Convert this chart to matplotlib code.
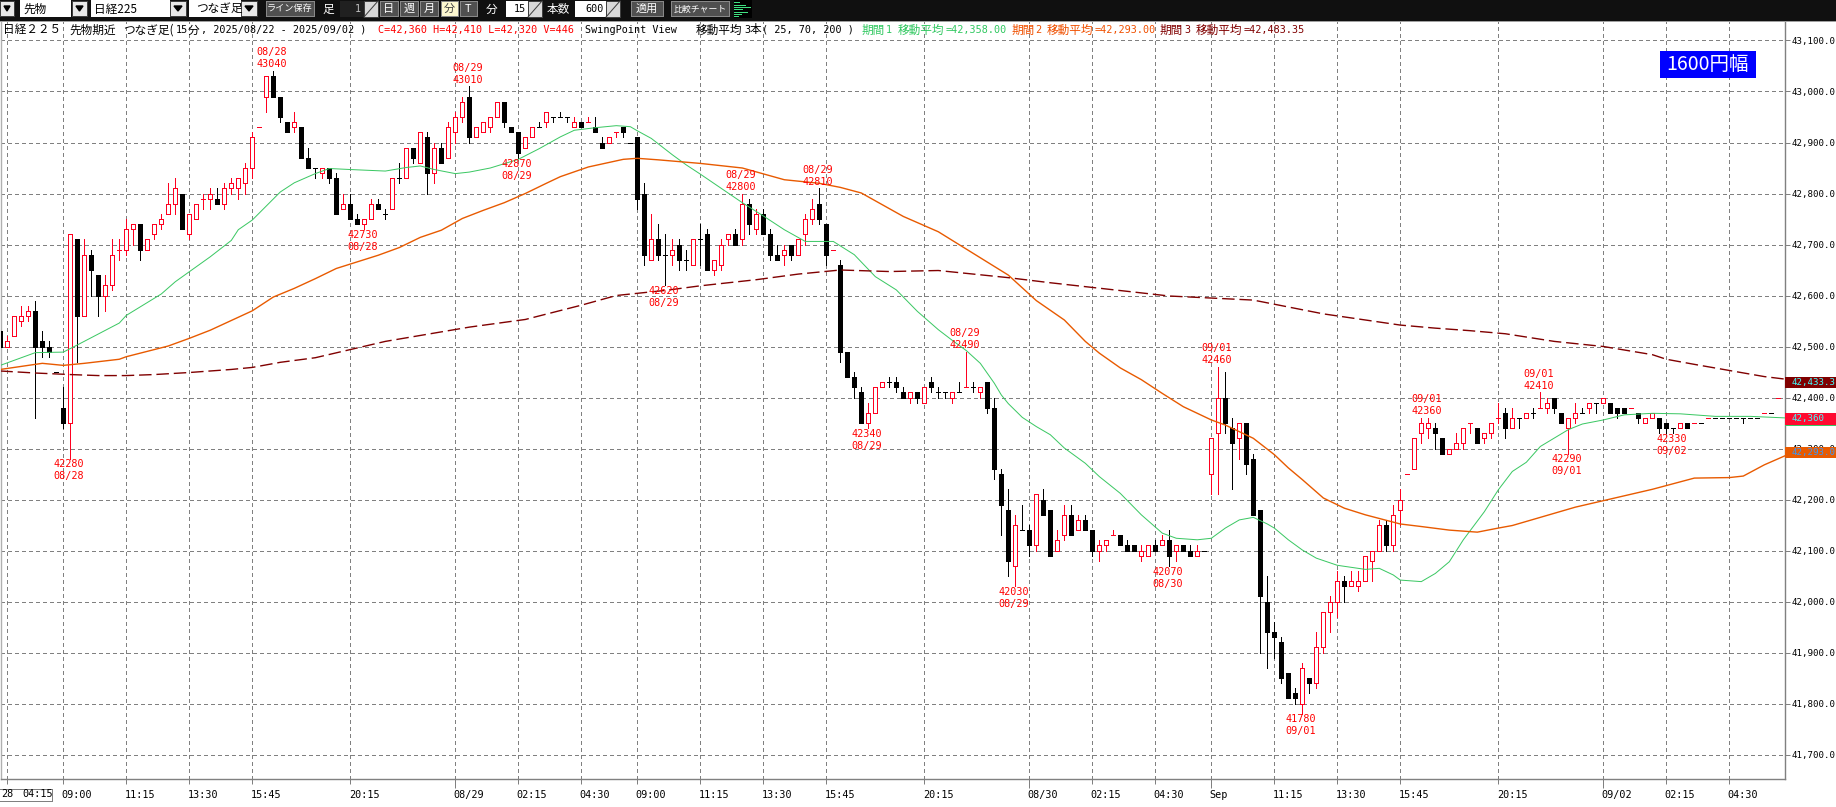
import matplotlib
matplotlib.use('Agg')
import matplotlib.pyplot as plt
from matplotlib.patches import Rectangle
from matplotlib.transforms import ScaledTranslation

plt.rcParams['font.family'] = ['Noto Sans CJK JP', 'DejaVu Sans']

# 15 min candles (yen)
opens = [42530,42500,42520,42550,42560,42570,42510,42500,42450,42380,
    42350,42710,42560,42680,42640,42600,42620,42690,42690,42730,
    42740,42690,42720,42740,42760,42780,42800,42720,42750,42790,
    42790,42790,42780,42810,42810,42820,42850,42930,42990,43030,
    42990,42940,42930,42930,42870,42850,42840,42850,42830,42770,
    42780,42750,42740,42750,42780,42760,42770,42830,42830,42890,
    42860,42910,42840,42890,42870,42920,42950,42990,42910,42920,
    42930,42950,42980,42930,42920,42890,42910,42930,42940,42950,
    42950,42950,42930,42940,42940,42930,42900,42900,42920,42930,
    42900,42910,42800,42670,42710,42680,42680,42700,42670,42660,
    42710,42720,42650,42660,42710,42720,42710,42780,42730,42760,
    42720,42680,42680,42700,42680,42720,42750,42780,42740,42690,
    42660,42490,42440,42410,42350,42370,42420,42430,42430,42410,
    42400,42410,42390,42430,42410,42410,42400,42410,42420,42420,
    42410,42430,42380,42250,42180,42070,42140,42140,42110,42200,
    42180,42100,42130,42170,42140,42160,42140,42100,42110,42130,
    42130,42110,42110,42090,42090,42110,42110,42120,42100,42110,
    42100,42090,42100,42250,42330,42400,42340,42320,42350,42280,
    42180,42000,41940,41920,41860,41820,41800,41850,41840,41910,
    41980,42000,42040,42030,42030,42040,42080,42100,42150,42110,
    42180,42250,42260,42330,42340,42340,42320,42290,42300,42310,
    42350,42340,42320,42330,42360,42370,42340,42360,42360,42370,
    42380,42380,42400,42370,42340,42360,42370,42380,42390,42390,
    42390,42380,42380,42380,42370,42350,42360,42360,42350,42340,
    42340,42350,42350,42350,42360,42360,42360,42360,42360,42360,
    42360,42360,42370,42370,42400]
highs = [42530,42520,42560,42580,42580,42590,42530,42510,42450,42420,
    42720,42710,42710,42690,42640,42640,42710,42710,42750,42740,
    42740,42710,42740,42760,42820,42830,42800,42760,42780,42800,
    42810,42810,42820,42830,42830,42860,42920,42930,43030,43040,
    42990,42940,42960,42930,42890,42850,42850,42850,42840,42800,
    42800,42760,42750,42790,42790,42770,42830,42860,42890,42890,
    42920,42920,42900,42900,42940,42960,42990,43010,42930,42940,
    42950,42980,42980,42930,42920,42910,42930,42940,42960,42950,
    42960,42950,42950,42940,42950,42950,42910,42910,42920,42930,
    42900,42910,42820,42760,42740,42720,42710,42710,42690,42710,
    42740,42730,42670,42710,42720,42730,42800,42790,42770,42770,
    42730,42700,42700,42700,42710,42760,42790,42810,42740,42690,
    42670,42490,42450,42420,42390,42420,42430,42440,42440,42420,
    42410,42410,42420,42440,42420,42410,42410,42430,42490,42430,
    42420,42430,42400,42260,42220,42170,42190,42150,42210,42220,
    42180,42140,42190,42190,42170,42170,42140,42120,42120,42140,
    42130,42120,42110,42110,42110,42120,42130,42140,42110,42110,
    42110,42110,42100,42320,42460,42450,42360,42350,42350,42290,
    42180,42050,41960,41930,41860,41830,41880,41850,41940,41980,
    42010,42060,42050,42060,42060,42090,42100,42160,42160,42190,
    42220,42250,42320,42360,42360,42350,42320,42300,42330,42340,
    42350,42340,42330,42350,42390,42380,42380,42360,42370,42380,
    42410,42400,42400,42370,42360,42390,42380,42390,42390,42400,
    42390,42380,42380,42380,42370,42360,42370,42360,42350,42340,
    42350,42350,42350,42350,42360,42360,42360,42360,42360,42360,
    42360,42360,42370,42370,42400]
lows = [42490,42500,42520,42540,42550,42360,42480,42480,42450,42340,
    42280,42470,42560,42600,42560,42570,42610,42670,42680,42700,
    42670,42690,42710,42730,42760,42760,42730,42710,42750,42770,
    42770,42780,42770,42800,42790,42800,42830,42930,42960,42990,
    42940,42920,42920,42870,42850,42830,42830,42820,42760,42770,
    42750,42740,42730,42750,42770,42750,42770,42820,42830,42860,
    42860,42800,42820,42860,42870,42900,42940,42900,42910,42920,
    42920,42950,42930,42920,42870,42890,42910,42930,42930,42940,
    42950,42940,42930,42930,42940,42920,42890,42900,42910,42910,
    42900,42770,42660,42670,42670,42620,42660,42650,42650,42660,
    42660,42650,42640,42650,42700,42700,42700,42720,42720,42720,
    42670,42670,42660,42670,42680,42700,42740,42740,42660,42690,
    42470,42440,42400,42350,42340,42370,42420,42420,42410,42400,
    42390,42390,42390,42410,42400,42400,42390,42410,42420,42410,
    42400,42370,42240,42130,42050,42030,42140,42090,42100,42170,
    42090,42100,42120,42130,42140,42140,42090,42080,42100,42130,
    42110,42100,42100,42080,42090,42100,42110,42070,42080,42100,
    42090,42090,42100,42210,42210,42330,42220,42280,42250,42170,
    41900,41870,41890,41840,41810,41800,41780,41820,41830,41900,
    41940,41970,42000,42030,42020,42040,42040,42100,42100,42100,
    42150,42250,42260,42310,42320,42300,42290,42290,42300,42300,
    42330,42310,42310,42320,42350,42320,42340,42340,42360,42360,
    42380,42370,42370,42350,42290,42350,42370,42370,42370,42390,
    42370,42360,42370,42380,42350,42350,42360,42330,42330,42330,
    42340,42340,42350,42350,42360,42360,42360,42360,42360,42350,
    42360,42360,42370,42370,42400]
closes = [42500,42510,42560,42560,42570,42500,42500,42490,42450,42350,
    42720,42560,42680,42650,42600,42620,42680,42690,42730,42740,
    42690,42710,42740,42750,42780,42810,42730,42760,42780,42790,
    42800,42780,42810,42820,42830,42850,42910,42930,43030,42990,
    42950,42920,42940,42870,42850,42850,42850,42830,42760,42780,
    42750,42740,42750,42780,42770,42760,42830,42830,42890,42870,
    42920,42840,42890,42860,42930,42950,42980,42910,42930,42940,
    42950,42980,42940,42920,42880,42910,42930,42930,42960,42950,
    42950,42950,42940,42930,42940,42920,42890,42910,42920,42920,
    42900,42790,42680,42710,42680,42680,42690,42670,42670,42710,
    42710,42650,42670,42700,42720,42700,42780,42740,42760,42720,
    42680,42670,42690,42680,42710,42750,42770,42750,42680,42690,
    42490,42440,42420,42350,42370,42420,42430,42430,42420,42400,
    42410,42400,42420,42420,42410,42410,42410,42410,42420,42420,
    42420,42380,42260,42190,42080,42150,42140,42110,42210,42170,
    42090,42120,42170,42130,42160,42140,42100,42110,42120,42130,
    42110,42100,42100,42100,42110,42100,42120,42090,42110,42100,
    42090,42100,42100,42320,42400,42350,42310,42350,42270,42170,
    42010,41940,41930,41850,41810,41810,41870,41840,41910,41980,
    42000,42040,42030,42040,42040,42090,42100,42150,42110,42170,
    42200,42250,42320,42350,42350,42330,42290,42300,42310,42340,
    42350,42310,42330,42350,42360,42340,42360,42360,42370,42370,
    42380,42390,42380,42350,42360,42370,42370,42390,42390,42400,
    42370,42370,42370,42380,42360,42360,42370,42340,42340,42340,
    42350,42340,42350,42350,42360,42360,42360,42360,42360,42360,
    42360,42360,42370,42370,42400]
red_dojis = [17,29,37,84,88,119,138,159,201,210,214,220,233,242,244,252,254]

# moving averages, read at a few bars
ma25_i = [0,5,9,11,17,18,23,25,30,33,34,36,40,42,45,47,50,55,58,60,62,65,67,70,74,77,80,82,85,88,90,91,93,96,98,100,
    103,106,109,112,115,117,119,122,125,128,131,134,136,138,140,142,143,144,146,148,150,152,155,157,160,163,166,168,
    171,173,175,177,179,181,182,184,186,188,191,195,197,199,200,203,205,207,209,212,214,216,218,220,224,226,229,232,
    236,240,245,250,255]
ma25_v = [42463,42488,42489,42503,42546,42561,42603,42627,42676,42708,42729,42748,42803,42821,42839,42849,42847,42844,
    42851,42854,42847,42839,42842,42850,42867,42888,42911,42924,42929,42933,42931,42923,42908,42876,42856,42838,
    42810,42782,42756,42729,42706,42706,42706,42680,42637,42611,42569,42533,42512,42492,42467,42428,42405,42388,
    42361,42343,42327,42301,42271,42245,42212,42170,42134,42124,42121,42124,42144,42160,42165,42152,42144,42121,
    42101,42085,42071,42063,42065,42052,42042,42039,42055,42078,42121,42176,42219,42255,42273,42304,42337,42348,
    42356,42366,42369,42368,42363,42363,42360]
ma70_i = [0,3,6,9,12,17,18,24,27,30,36,39,42,45,48,51,54,57,60,63,66,69,72,75,78,80,84,89,91,94,100,106,112,117,120,
    123,126,129,134,144,148,152,155,157,160,163,166,169,173,175,179,182,184,186,189,192,195,200,203,207,211,214,216,
    225,236,242,247,249,252,255]
ma70_v = [42455,42461,42467,42463,42467,42475,42480,42501,42516,42532,42570,42597,42614,42633,42653,42666,42679,42694,
    42714,42728,42751,42767,42782,42800,42820,42833,42852,42867,42869,42866,42859,42850,42827,42820,42812,
    42801,42778,42755,42725,42640,42590,42552,42510,42487,42458,42435,42408,42382,42356,42346,42320,42288,42262,
    42239,42203,42183,42170,42152,42147,42140,42136,42144,42149,42185,42220,42242,42243,42246,42268,42286]
ma200_i = [0,5,10,14,18,22,27,33,36,40,45,55,67,75,83,88,95,100,108,114,120,127,134,144,150,167,179,189,195,200,205,
    210,215,222,229,236,238,242,247,252,255]
ma200_v = [42452,42448,42445,42443,42443,42445,42449,42455,42459,42469,42478,42510,42538,42553,42581,42600,42610,42619,
    42631,42642,42650,42647,42649,42635,42625,42599,42591,42564,42552,42542,42536,42531,42525,42510,42500,42484,
    42475,42465,42453,42441,42436]

# swing labels
swing_i = [39,10,67,52,74,106,117,95,124,138,145,167,174,186,204,220,224,239]
swing_p = [43040,42280,43010,42730,42870,42800,42810,42620,42340,42490,42030,42070,42460,41780,42360,42410,42290,42330]
swing_d = ['08/28','08/28','08/29','08/28','08/29','08/29','08/29','08/29','08/29','08/29','08/29','08/30',
    '09/01','09/01','09/01','09/01','09/01','09/02']
swing_up = [1,0,1,0,0,1,1,0,0,1,0,0,1,0,1,1,0,0]

tick_i = [1,9,18,27,36,50,65,74,83,91,100,109,118,132,147,156,165,173,182,191,200,214,229,238,247]
tick_lab = ['','09:00','11:15','13:30','15:45','20:15','08/29','02:15','04:30','09:00','11:15','13:30','15:45',
    '20:15','08/30','02:15','04:30','Sep','11:15','13:30','15:45','20:15','09/02','02:15','04:30']
date_ticks = ['08/29','08/30','Sep','09/02']
y_ticks = list(range(41700, 43101, 100))

RED = '#ff0020'
GREEN = '#3cc864'
ORANGE = '#e85a00'
DARKRED = '#800000'
GRAY = '#808080'
MONO = 'DejaVu Sans Mono'
PX = 0.72  # one pixel in points at dpi 100

W, H = 1836, 807
fig = plt.figure(figsize=(W / 100, H / 100), dpi=100, facecolor='white')
ax = fig.add_axes([1 / W, 1 - 779.3 / H, 1783.7 / W, 757.8 / H])
ax.set_xlim(0.1, 254.91)
ax.set_ylim(41651.4, 43137.25)

ax.grid(True, color=GRAY, linewidth=PX, dashes=(4, 3), antialiased=False, zorder=0)
ax.set_axisbelow(True)

# candles
for i in range(len(opens)):
    o, h, l, c = opens[i], highs[i], lows[i], closes[i]
    up = c > o or (c == o and i in red_dojis)
    col = RED if up else 'black'
    ax.vlines(i, l, h, color=col, linewidth=PX, antialiased=False, zorder=2)
    face = 'white' if up else 'black'
    ax.bar(i, abs(c - o), bottom=min(o, c), width=4 / 7, facecolor=face, edgecolor=col,
           linewidth=PX, antialiased=False, zorder=3)

# thin lines stay antialiased, aliased ones come out two pixels wide
ax.plot(ma25_i, ma25_v, color=GREEN, linewidth=PX, zorder=4)
ax.plot(ma70_i, ma70_v, color=ORANGE, linewidth=1.0, zorder=4)
ax.plot(ma200_i, ma200_v, color=DARKRED, linewidth=1.0, dashes=(9, 3.5), zorder=4)

for i, p, d, up in zip(swing_i, swing_p, swing_d, swing_up):
    txt = [d, str(p)] if up else [str(p), d]
    off = [18.7, 6.7] if up else [-5.7, -17.7]
    for t, dy in zip(txt, off):
        ax.annotate(t, (i, p), xytext=(-1.4 * PX, dy * PX), textcoords='offset points', ha='center', va='center',
                    color='#ff0000', family=MONO, fontsize=7.3, zorder=6)

ax.yaxis.tick_right()
ax.set_yticks(y_ticks)
ax.set_yticklabels(['{:,.1f}'.format(v) for v in y_ticks], family=MONO, fontsize=6.6)
ax.set_xticks(tick_i)
ax.set_xticklabels(tick_lab, family=MONO, fontsize=7.3, ha='left')
ax.tick_params(axis='y', length=5 * PX, width=PX, color=GRAY, pad=2 * PX)
ax.tick_params(axis='x', length=5 * PX, width=PX, color=GRAY, pad=6 * PX)
shift = ScaledTranslation(-1.5 / 100, 0, fig.dpi_scale_trans)
for t, lab in zip(ax.xaxis.get_major_ticks(), tick_lab):
    t.label1.set_transform(t.label1.get_transform() + shift)
    if lab in date_ticks:
        t.tick1line.set_markersize(9 * PX)
ax.spines['top'].set_visible(False)
for s in ['left', 'right', 'bottom']:
    ax.spines[s].set_color(GRAY if s != 'left' else '#b0b0b0')
    ax.spines[s].set_linewidth(PX * 1.4)

# toolbar, header and tags in pixel space
ov = fig.add_axes([0, 0, 1, 1], facecolor='none', zorder=10)
ov.set_xlim(0, W)
ov.set_ylim(H, 0)
ov.axis('off')

def box(x0, y0, x1, y1, fc, ec='none'):
    ov.add_patch(Rectangle((x0, y0), x1 - x0, y1 - y0, facecolor=fc, edgecolor=ec, linewidth=PX, antialiased=False))

def label(x, y, s, col='black', size=8.4, mono=False, ha='left'):
    ov.text(x, y, s, color=col, fontsize=size, ha=ha, va='center', family=MONO if mono else None, clip_on=False)

def arrow_btn(x0, x1):
    box(x0, 1, x1, 16, '#e8e8e8', '#404040')
    ov.fill([x0 + 4, x1 - 4, (x0 + x1) / 2], [6, 6, 11], color='black')

def spinner(x0, x1):
    box(x0, 1, x1, 17, '#d8d8d8', '#404040')
    ov.plot([x0, x1], [17, 1], color='#404040', linewidth=PX)

box(0, 0, W, 21, '#101010')
box(0, 21, W, 22, '#a0a0a0')
arrow_btn(0, 14)
box(20, 0, 71, 17, 'white')
label(23, 9, '先物')
arrow_btn(72, 87)
box(91, 0, 170, 17, 'white')
label(94, 9, '日経225')
arrow_btn(170, 186)
box(189, 0, 241, 17, 'white')
label(196, 9, 'つなぎ足')
arrow_btn(241, 257)

for x0, x1, s, sz in [(266, 314, 'ライン保存', 6.6), (631, 663, '適用', 8), (671, 729, '比較チャート', 6.4)]:
    box(x0, 1, x1, 16, '#505050', '#888888')
    label((x0 + x1) / 2, 9, s, 'white', sz, ha='center')
label(322, 9, '足', 'white')
box(340, 1, 364, 17, '#202020')
label(361, 9, '1', '#c0c0c0', 7.3, True, 'right')
spinner(364, 378)
for x0, x1, s, fc, tc in [(380, 398, '日', '#505050', 'white'), (400, 418, '週', '#505050', 'white'),
                          (420, 438, '月', '#505050', 'white'), (441, 458, '分', '#fdf8d0', '#404040'),
                          (460, 477, 'T', '#505050', 'white')]:
    box(x0, 1, x1, 16, fc, '#888888')
    label((x0 + x1) / 2, 9, s, tc, 8, ha='center')
label(486, 9, '分', 'white')
box(506, 1, 528, 17, 'white')
label(526, 9, '15', 'black', 7.3, True, 'right')
spinner(528, 542)
label(547, 9, '本数', 'white')
box(575, 1, 606, 17, 'white')
label(604, 9, '600', 'black', 7.3, True, 'right')
spinner(606, 620)
box(734, 0, 752, 18, 'black')
for n, (yy, ww) in enumerate([(2, 6), (5, 12), (7, 17), (9, 9), (12, 14), (14, 8), (16, 5)]):
    box(734, yy, 734 + ww, yy + 1, '#40e080')

# header line
HY = 30
for x, s in [(3, '日経２２５'), (69, '先物期近'), (123, 'つなぎ足(')]:
    label(x, HY, s)
label(176, HY, '15', mono=True, size=7.3)
label(188, HY, '分')
label(201, HY, ', 2025/08/22 - 2025/09/02 )', mono=True, size=7.3)
label(378, HY, 'C=42,360 H=42,410 L=42,320 V=446', '#ff0000', 7.3, True)
label(585, HY, 'SwingPoint View', mono=True, size=7.3)
label(696, HY, '移動平均')
label(744, HY, '3', mono=True, size=7.3)
label(750, HY, '本')
label(762, HY, '( 25, 70, 200 )', mono=True, size=7.3)
for x, n, val, col in [(862, '1', '=42,358.00', '#30c860'), (1011, '2', '=42,293.00', '#f05000'),
                       (1160, '3', '=42,483.35', DARKRED)]:
    label(x, HY, '期間', col)
    label(x + 24, HY, n, col, 7.3, True)
    label(x + 36, HY, '移動平均', col)
    label(x + 84, HY, val, col, 7.3, True)

# 1600 yen box
box(1660, 51, 1756, 78, '#0000ff')
label(1708, 64, '1600円幅', 'white', 14, ha='center')

# right tags
for y0, y1, fc, s, tc in [(377, 388, DARKRED, '42,433.3', '#40ffff'), (413, 425, '#ff0a30', '42,360', '#40ffff'),
                          (447, 458, ORANGE, '42,293.0', '#3399ff')]:
    box(1785, y0, W, y1, fc)
    label(1792, (y0 + y1) / 2, s, tc, 6.6, True)
box(1785, 425, W, 426, GREEN)

# first tick label, boxed at the left edge
ov.add_patch(Rectangle((-5, 789), 56.5, 12, facecolor='none', edgecolor=GRAY, linewidth=PX, antialiased=False))
label(1, 794, '28', mono=True, size=7.3)
label(22, 794, '04:15', mono=True, size=7.3)

fig.savefig('out.png', dpi=100)
